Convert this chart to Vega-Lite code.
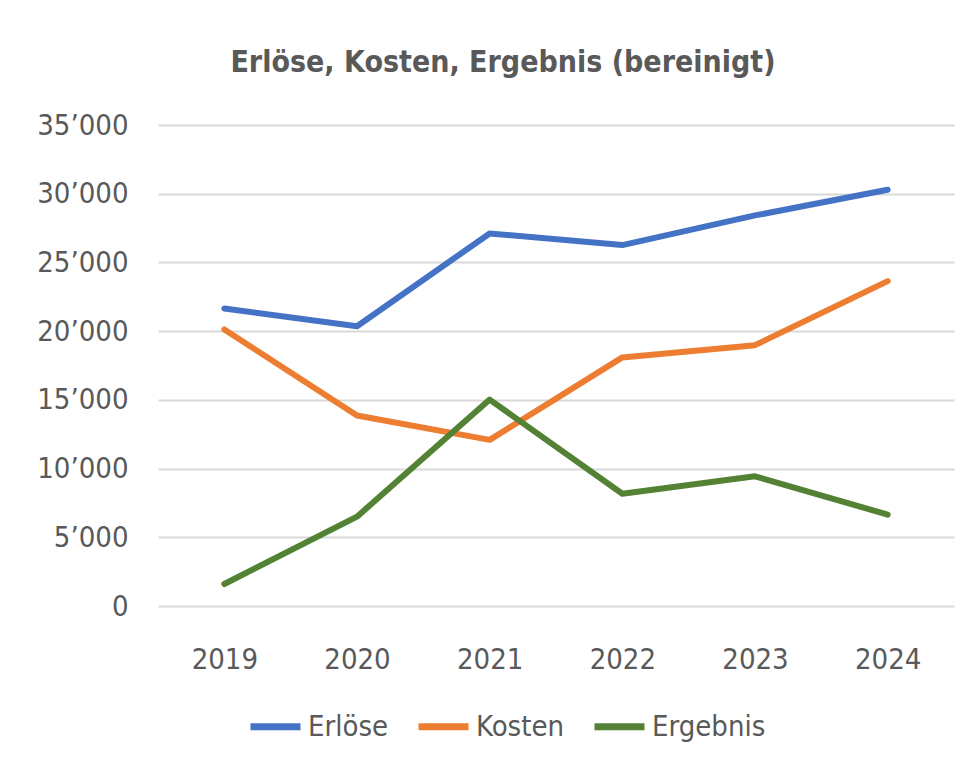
{
  "$schema": "https://vega.github.io/schema/vega-lite/v6.json",
  "autosize": {"type": "none"},
  "padding": {"left": 158, "top": 125, "right": 19, "bottom": 166},
  "width": 796,
  "height": 481,
  "background": "white",
  "title": {
    "text": "Erlöse, Kosten, Ergebnis (bereinigt)",
    "anchor": "middle",
    "frame": "group",
    "dx": -53,
    "offset": 9,
    "baseline": "alphabetic",
    "font": "DejaVu Sans Condensed, sans-serif",
    "fontSize": 30,
    "fontWeight": "bold",
    "color": "#595959"
  },
  "data": {
    "values": [
      {"Jahr": "2019", "Serie": "Erlöse", "Wert": 21650},
      {"Jahr": "2020", "Serie": "Erlöse", "Wert": 20360},
      {"Jahr": "2021", "Serie": "Erlöse", "Wert": 27110},
      {"Jahr": "2022", "Serie": "Erlöse", "Wert": 26260},
      {"Jahr": "2023", "Serie": "Erlöse", "Wert": 28420},
      {"Jahr": "2024", "Serie": "Erlöse", "Wert": 30290},
      {"Jahr": "2019", "Serie": "Kosten", "Wert": 20120},
      {"Jahr": "2020", "Serie": "Kosten", "Wert": 13860},
      {"Jahr": "2021", "Serie": "Kosten", "Wert": 12090},
      {"Jahr": "2022", "Serie": "Kosten", "Wert": 18090},
      {"Jahr": "2023", "Serie": "Kosten", "Wert": 18980},
      {"Jahr": "2024", "Serie": "Kosten", "Wert": 23640},
      {"Jahr": "2019", "Serie": "Ergebnis", "Wert": 1600},
      {"Jahr": "2020", "Serie": "Ergebnis", "Wert": 6500},
      {"Jahr": "2021", "Serie": "Ergebnis", "Wert": 15020},
      {"Jahr": "2022", "Serie": "Ergebnis", "Wert": 8170},
      {"Jahr": "2023", "Serie": "Ergebnis", "Wert": 9440},
      {"Jahr": "2024", "Serie": "Ergebnis", "Wert": 6650}
    ]
  },
  "mark": {"type": "line", "strokeWidth": 6, "strokeCap": "round", "strokeJoin": "round"},
  "encoding": {
    "x": {
      "field": "Jahr",
      "type": "ordinal",
      "scale": {"type": "point", "padding": 0.5},
      "axis": {
        "title": null,
        "domain": false,
        "ticks": false,
        "grid": false,
        "labelAngle": 0,
        "labelPadding": 39,
        "labelFontSize": 29,
        "labelFont": "DejaVu Sans Condensed, sans-serif",
        "labelColor": "#595959"
      }
    },
    "y": {
      "field": "Wert",
      "type": "quantitative",
      "scale": {"domain": [0, 35000], "nice": false},
      "axis": {
        "title": null,
        "domain": false,
        "ticks": false,
        "values": [0, 5000, 10000, 15000, 20000, 25000, 30000, 35000],
        "labelExpr": "replace(format(datum.value, ','), ',', '’')",
        "labelPadding": 30,
        "labelFontSize": 29,
        "labelFont": "DejaVu Sans Condensed, sans-serif",
        "labelColor": "#595959",
        "gridColor": "#d9d9d9",
        "gridWidth": 2
      }
    },
    "color": {
      "field": "Serie",
      "type": "nominal",
      "scale": {"domain": ["Erlöse", "Kosten", "Ergebnis"], "range": ["#4472C4", "#ED7D31", "#548235"]},
      "legend": {
        "title": null,
        "orient": "none",
        "direction": "horizontal",
        "legendX": 89,
        "legendY": 573,
        "symbolType": "stroke",
        "symbolSize": 2500,
        "symbolStrokeWidth": 7,
        "labelFontSize": 29,
        "labelFont": "DejaVu Sans Condensed, sans-serif",
        "labelColor": "#595959",
        "labelOffset": 4,
        "columnPadding": 15
      }
    }
  },
  "config": {"view": {"stroke": null}}
}
